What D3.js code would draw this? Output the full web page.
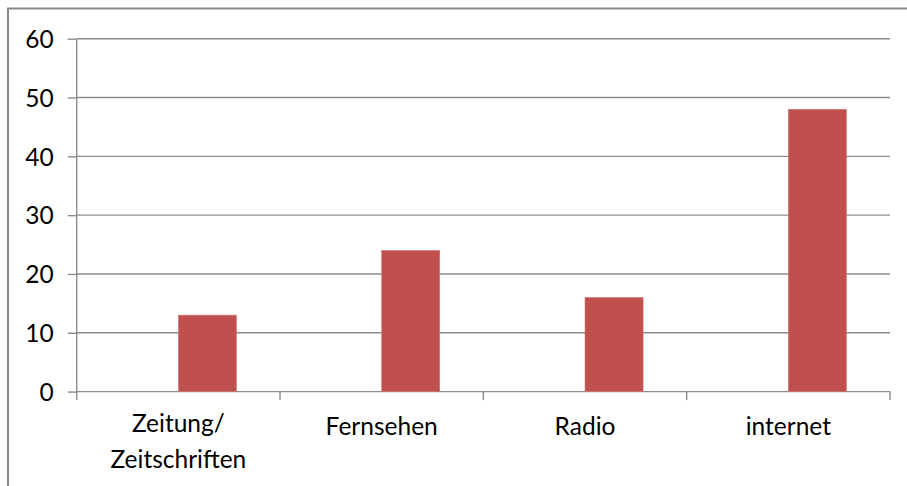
<!DOCTYPE html>
<html>
<head>
<meta charset="utf-8">
<script src="https://cdn.jsdelivr.net/npm/d3@7"></script>
<style>
  html, body { margin: 0; padding: 0; background: #fff; }
  svg { display: block; }
  text { font-family: Lato, "Open Sans", sans-serif; fill: #000; }
</style>
</head>
<body>
<svg id="chart" width="907" height="486"></svg>
<script>
// ---- data ----
const categories = ["Zeitung/\nZeitschriften", "Fernsehen", "Radio", "internet"];
const seriesNames = ["Reihe 1", "Reihe 2"];
const series1 = [null, null, null, null];      // empty first series (reserves the left slot)
const series2 = [13, 24, 16, 48];
const yTicks = [0, 10, 20, 30, 40, 50, 60];

// ---- layout ----
const W = 907, H = 486;
const plot = { left: 76.7, right: 890, top: 38.7, bottom: 391.6 };
const fontSize = 24.5;

const svg = d3.select("#chart");

// outer chart border (runs off right & bottom edges)
svg.append("rect")
  .attr("x", 8).attr("y", 8.5)
  .attr("width", W + 10).attr("height", H + 10)
  .attr("fill", "none").attr("stroke", "#8a8a8a").attr("stroke-width", 2);

const x0 = d3.scaleBand().domain(categories).range([plot.left, plot.right]).paddingInner(0).paddingOuter(0);
const x1 = d3.scaleBand().domain(seriesNames).range([0, x0.bandwidth()]).paddingInner(0).paddingOuter(0.75);
const y = d3.scaleLinear().domain([0, 60]).range([plot.bottom, plot.top]);

const gridColor = "#8c8c8c";

// gridlines
svg.append("g").selectAll("line").data(yTicks.filter(d => d > 0)).join("line")
  .attr("x1", plot.left).attr("x2", plot.right)
  .attr("y1", d => y(d)).attr("y2", d => y(d))
  .attr("stroke", gridColor).attr("stroke-width", 1.4);

// y axis
const yAxis = d3.axisLeft(y).tickValues(yTicks).tickSize(9).tickPadding(14).tickFormat(d3.format("d"));
const gy = svg.append("g").attr("transform", `translate(${plot.left},0)`).call(yAxis);
gy.select(".domain").attr("stroke", gridColor).attr("stroke-width", 1.4).attr("d", `M0,${plot.top}V${plot.bottom}`);
gy.selectAll(".tick line").attr("stroke", gridColor).attr("stroke-width", 1.4);
gy.selectAll(".tick text").attr("font-size", fontSize).attr("font-family", "Lato, sans-serif").attr("fill", "#000").attr("dy", "0.36em");

// x axis
const xAxis = d3.axisBottom(x0).tickSize(0).tickFormat("");
const gx = svg.append("g").attr("transform", `translate(0,${plot.bottom})`).call(xAxis);
gx.select(".domain").attr("stroke", gridColor).attr("stroke-width", 1.4).attr("d", `M${plot.left},0H${plot.right}`);
gx.selectAll(".tick").remove();
// category boundary tick marks
const boundaries = categories.map(c => x0(c)).concat([plot.right]);
gx.selectAll("line.cat").data(boundaries).join("line").attr("class", "cat")
  .attr("x1", d => d).attr("x2", d => d).attr("y1", 0).attr("y2", 8.5)
  .attr("stroke", gridColor).attr("stroke-width", 1.4);

// category labels
const lineH = 36;
const labels = svg.append("g").selectAll("text").data(categories).join("text")
  .attr("text-anchor", "middle")
  .attr("font-size", fontSize);
labels.each(function(d) {
  const parts = d.split("\n");
  const t = d3.select(this);
  const yStart = parts.length > 1 ? 432 : 435;
  parts.forEach((p, i) => {
    t.append("tspan").attr("x", x0(d) + x0.bandwidth() / 2).attr("y", yStart + i * lineH).text(p);
  });
});

// bars
const barColor = "#C0504D";
const gBars = svg.append("g");
gBars.selectAll("rect.s1").data(series1.map((v, i) => ({ c: categories[i], v })).filter(d => d.v != null))
  .join("rect").attr("class", "s1")
  .attr("x", d => x0(d.c) + x1(seriesNames[0])).attr("width", x1.bandwidth())
  .attr("y", d => y(d.v)).attr("height", d => y(0) - y(d.v)).attr("fill", "#4F81BD");
gBars.selectAll("rect.s2").data(series2.map((v, i) => ({ c: categories[i], v })))
  .join("rect").attr("class", "s2")
  .attr("x", d => x0(d.c) + x1(seriesNames[1])).attr("width", x1.bandwidth())
  .attr("y", d => y(d.v)).attr("height", d => y(0) - y(d.v))
  .attr("fill", barColor).attr("stroke", "#d57b78").attr("stroke-width", 0.6);
</script>
</body>
</html>
